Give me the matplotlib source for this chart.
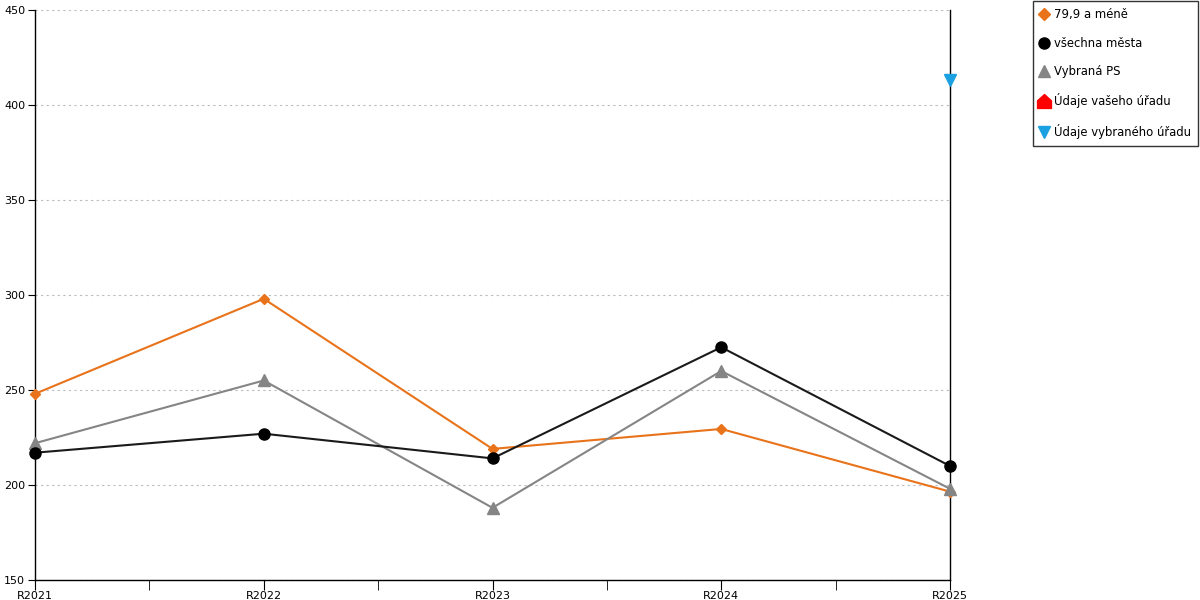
import matplotlib.pyplot as plt
from matplotlib.lines import Line2D
from matplotlib.path import Path
import numpy as np

years = ["R2021", "R2022", "R2023", "R2024", "R2025"]
orange_vals = [248, 298, 219, 229.5, 196.5]
black_vals = [217, 227, 214, 272.5, 210]
gray_vals = [222, 255, 188, 260, 198]
selected_office = [None, None, None, None, 413]

labels = ["79,9 a méně", "všechna města", "Vybraná PS", "Údaje vašeho úřadu", "Údaje vybraného úřadu"]

orange = "#e8731a"
gray = "#858585"
blue = "#1ba1e2"

plt.rcParams['font.family'] = ['DejaVu Sans']
fig = plt.figure(figsize=(12, 6), dpi=100)
ax = fig.add_axes([35/1200, 20/600, 915/1200, 570/600])

x = np.arange(len(years))
ax.plot(x, orange_vals, color=orange, lw=1.5, marker="D", ms=5.5, zorder=3, clip_on=False)
ax.plot(x, gray_vals, color=gray, lw=1.5, marker="^", ms=8.5, zorder=3, clip_on=False)
ax.plot(x, black_vals, color="#1a1a1a", lw=1.5, marker="o", ms=8, mfc="black", mec="black",
        zorder=4, clip_on=False)
sx = [i for i, v in enumerate(selected_office) if v is not None]
sy = [v for v in selected_office if v is not None]
ax.plot(sx, sy, ls="none", marker="v", ms=8.5, color=blue, zorder=5, clip_on=False)

ax.set_xlim(0, len(years) - 1)
ax.set_ylim(150, 450)
ax.set_yticks(range(150, 451, 50))
ax.set_xticks(x)
ax.set_xticklabels(years)
ax.set_xticks(x[:-1] + 0.5, minor=True)
ax.tick_params(axis="x", which="both", length=7, direction="out", labelsize=8, pad=1)
ax.tick_params(axis="y", length=5, direction="out", labelsize=8, pad=2)
ax.grid(axis="y", color="#bbbbbb", ls=(0, (2, 3)), lw=0.8)
ax.spines["top"].set_visible(False)
for s in ["left", "bottom", "right"]:
    ax.spines[s].set_linewidth(1)

house = Path([(-1, -1), (1, -1), (1, 0.1), (0, 1), (-1, 0.1), (-1, -1)],
             [Path.MOVETO, Path.LINETO, Path.LINETO, Path.LINETO, Path.LINETO, Path.CLOSEPOLY])
handles = [
    Line2D([], [], ls="none", marker="D", ms=6, color=orange),
    Line2D([], [], ls="none", marker="o", ms=8, color="black"),
    Line2D([], [], ls="none", marker="^", ms=8.5, color=gray),
    Line2D([], [], ls="none", marker=house, ms=10, color="red"),
    Line2D([], [], ls="none", marker="v", ms=8.5, color=blue),
]
leg = fig.legend(handles, labels, loc="upper left", bbox_to_anchor=(1033/1200, 1 - 1/600),
                 frameon=True, fancybox=False, edgecolor="black", fontsize=8.4,
                 handlelength=0.6, handletextpad=0.55, labelspacing=1.32,
                 borderpad=0.62, borderaxespad=0)
leg.get_frame().set_linewidth(1)

fig.savefig("out.png", dpi=100)
